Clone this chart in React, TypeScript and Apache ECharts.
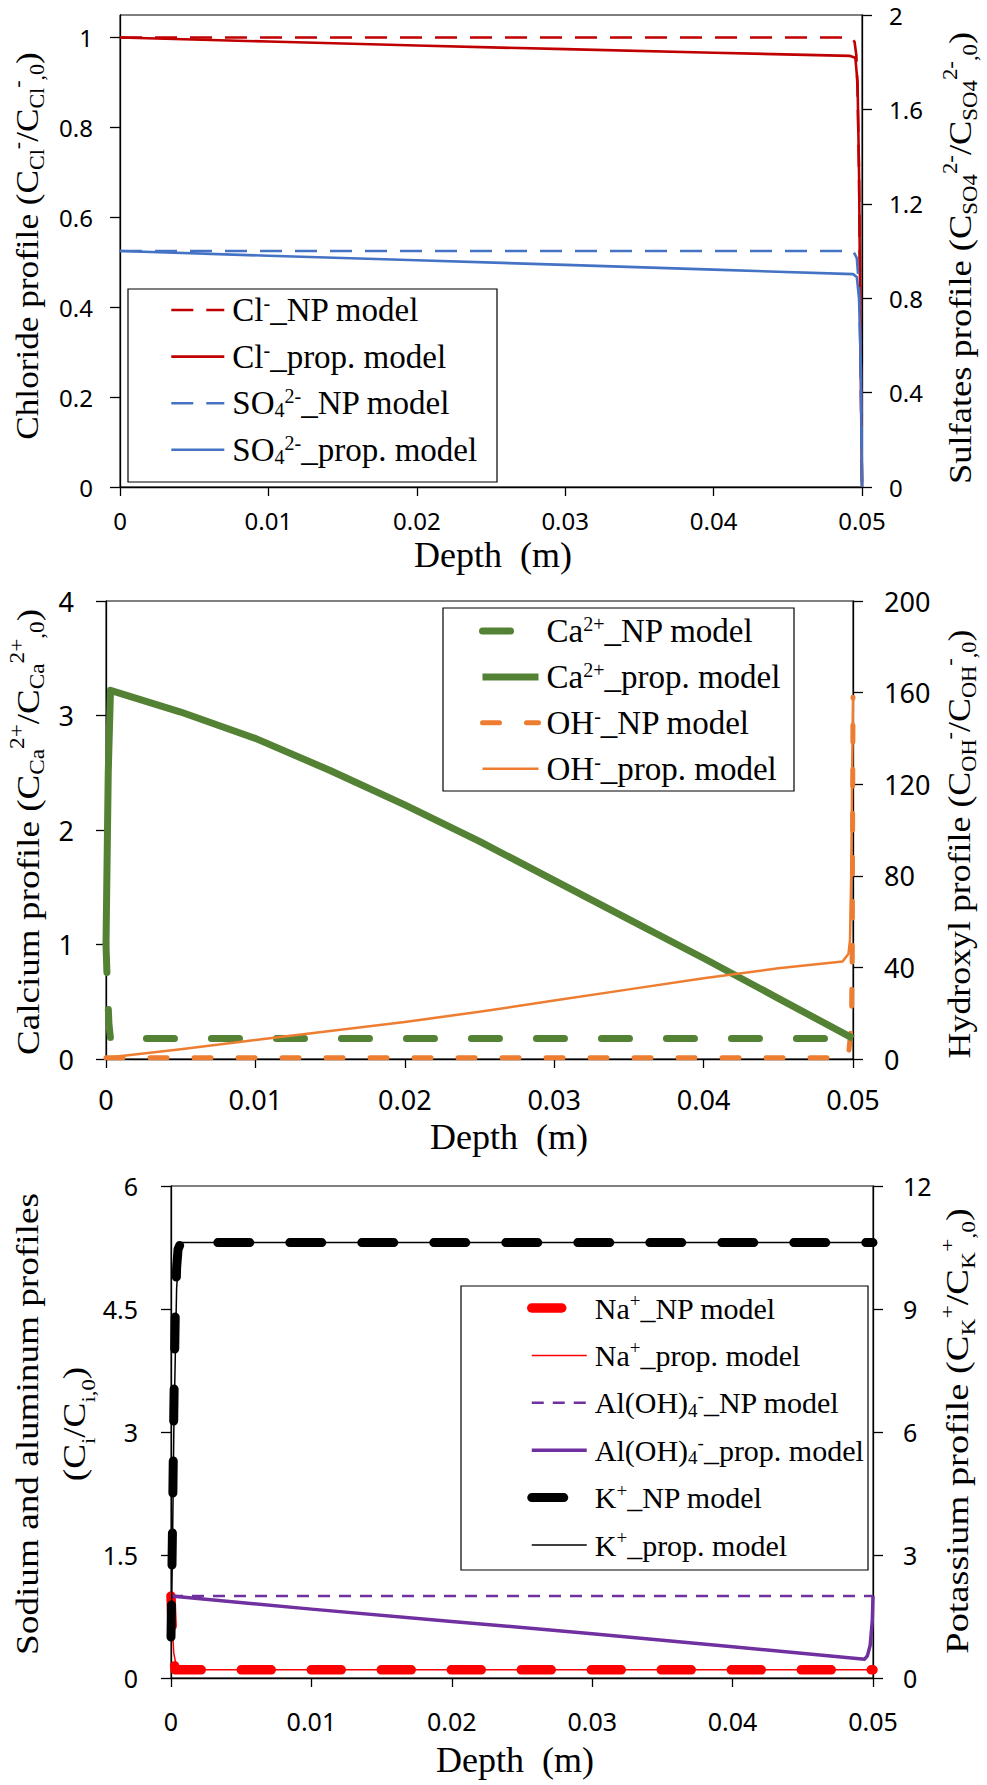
import React, { useEffect, useRef } from 'react';
import * as echarts from 'echarts';

const SERIF = '"Liberation Serif", "Times New Roman", serif';
const SANS = '"Noto Sans", "Open Sans", sans-serif';

// ---------- tick labels ----------
const depthTicks = [0, 0.01, 0.02, 0.03, 0.04, 0.05];
const chlorideTicks = [0, 0.2, 0.4, 0.6, 0.8, 1];

// ---------- chart 1: chloride / sulfates ----------
const clNPx = [0, 0.0493, 0.0495, 0.04962, 0.0497, 0.0498, 0.04988, 0.04995, 0.05];
const clNPy = [1, 1, 0.99, 0.96, 0.88, 0.7, 0.4, 0.15, 0];
const clPropX = [0, 0.01, 0.02, 0.03, 0.04, 0.0492, 0.04955, 0.0497, 0.0498, 0.04988, 0.04995, 0.05];
const clPropY = [1, 0.991, 0.982, 0.974, 0.966, 0.959, 0.955, 0.9, 0.7, 0.4, 0.15, 0];
const so4NPx = [0, 0.0494, 0.04965, 0.0498, 0.0499, 0.04996, 0.05];
const so4NPy = [1, 1, 0.97, 0.85, 0.55, 0.25, 0];
const so4PropX = [0, 0.01, 0.02, 0.03, 0.04, 0.0494, 0.04965, 0.0498, 0.04993, 0.04998, 0.05];
const so4PropY = [1, 0.98, 0.961, 0.941, 0.921, 0.902, 0.89, 0.8, 0.5, 0.15, 0];

// ---------- chart 2: calcium / hydroxyl ----------
const caNPx = [0, 0.0001, 0.0002, 0.0003, 0.05];
const caNPy = [1, 0.6, 0.3, 0.18, 0.18];
const caPropX = [0, 0.00015, 0.0003, 0.005, 0.01, 0.015, 0.02, 0.025, 0.03, 0.035, 0.04, 0.045, 0.05];
const caPropY = [1, 2.5, 3.22, 3.03, 2.8, 2.52, 2.22, 1.9, 1.56, 1.22, 0.88, 0.53, 0.18];
const ohNPx = [0, 0.0494, 0.0497, 0.0499, 0.04995, 0.05];
const ohNPy = [0.5, 0.5, 2, 15, 50, 158];
const ohPropX = [0, 0.005, 0.01, 0.015, 0.02, 0.025, 0.03, 0.035, 0.04, 0.045, 0.0493, 0.0497, 0.0498, 0.04988, 0.04995, 0.05];
const ohPropY = [0.5, 4.3, 8.3, 12.2, 16.2, 20.6, 25.5, 30.4, 35.3, 39.6, 42.6, 46, 52, 80, 130, 158];

// ---------- chart 3: sodium / aluminum / potassium ----------
const naNPx = [0, 0.0001, 0.0002, 0.0003, 0.05];
const naNPy = [1, 0.55, 0.22, 0.1, 0.1];
const naPropX = [0, 0.0001, 0.0002, 0.0004, 0.0006, 0.05];
const naPropY = [1, 0.6, 0.3, 0.13, 0.1, 0.1];
const alNPx = [0, 0.025, 0.05];
const alNPy = [1, 1, 1];
const alPropX = [0, 0.01, 0.02, 0.03, 0.04, 0.0494, 0.0496, 0.0498, 0.04995, 0.05];
const alPropY = [1, 0.84, 0.69, 0.54, 0.38, 0.23, 0.27, 0.4, 0.7, 1];
const kNPx = [0, 0.0001, 0.0002, 0.0003, 0.0004, 0.0005, 0.0007, 0.05];
const kNPy = [1, 3.5, 6.5, 8.8, 10, 10.45, 10.62, 10.62];
const kPropX = [0, 0.0001, 0.0002, 0.0004, 0.0006, 0.0008, 0.05];
const kPropY = [1, 3, 6, 9.5, 10.5, 10.62, 10.62];

// ---------- legend labels ----------
const LEG1 = ['Cl⁻_NP model', 'Cl⁻_prop. model', 'SO₄²⁻_NP model', 'SO₄²⁻_prop. model'];
const LEG2 = ['Ca²⁺_NP model', 'Ca²⁺_prop. model', 'OH⁻_NP model', 'OH⁻_prop. model'];
const LEG3 = ['Na⁺_NP model', 'Na⁺_prop. model', 'Al(OH)₄⁻_NP model', 'Al(OH)₄⁻_prop. model', 'K⁺_NP model', 'K⁺_prop. model'];
const LEG_RICH: Record<string, string> = {
  'Cl⁻_NP model': '{n|Cl}{sup|-}{n|_NP model}',
  'Cl⁻_prop. model': '{n|Cl}{sup|-}{n|_prop. model}',
  'SO₄²⁻_NP model': '{n|SO}{sub|4}{sup|2-}{n|_NP model}',
  'SO₄²⁻_prop. model': '{n|SO}{sub|4}{sup|2-}{n|_prop. model}',
  'Ca²⁺_NP model': '{n|Ca}{sup|2+}{n|_NP model}',
  'Ca²⁺_prop. model': '{n|Ca}{sup|2+}{n|_prop. model}',
  'OH⁻_NP model': '{n|OH}{sup|-}{n|_NP model}',
  'OH⁻_prop. model': '{n|OH}{sup|-}{n|_prop. model}',
  'Na⁺_NP model': '{n|Na}{sup|+}{n|_NP model}',
  'Na⁺_prop. model': '{n|Na}{sup|+}{n|_prop. model}',
  'Al(OH)₄⁻_NP model': '{n|Al(OH)}{sub|4}{sup|-}{n|_NP model}',
  'Al(OH)₄⁻_prop. model': '{n|Al(OH)}{sub|4}{sup|-}{n|_prop. model}',
  'K⁺_NP model': '{n|K}{sup|+}{n|_NP model}',
  'K⁺_prop. model': '{n|K}{sup|+}{n|_prop. model}',
};

// ---------- axis titles ----------
const TITLE_C1_LEFT = '{n|Chloride profile (C}{sub|Cl}{sup|-}{n|/C}{sub|Cl}{sup|-}{sub|,0}{n|)}';
const TITLE_C1_RIGHT = '{n|Sulfates profile (C}{sub|SO}{sub2|4}{sup|2-}{n|/C}{sub|SO}{sub2|4}{sup|2-}{sub|,0}{n|)}';
const TITLE_C2_LEFT = '{n|Calcium profile (C}{sub|Ca}{sup|2+}{n|/C}{sub|Ca}{sup|2+}{sub|,0}{n|)}';
const TITLE_C2_RIGHT = '{n|Hydroxyl profile (C}{sub|OH}{sup|-}{n|/C}{sub|OH}{sup|-}{sub|,0}{n|)}';
const TITLE_C3_LEFT = '{n|Sodium and aluminum profiles}\n{n|(C}{sub|i}{n|/C}{sub|i,0}{n|)}';
const TITLE_C3_RIGHT = '{n|Potassium profile (C}{sub|K}{sup|+}{n|/C}{sub|K}{sup|+}{sub|,0}{n|)}';
const DEPTH_NAME = 'Depth  (m)';

function rich(F: number, L: number) {
  const s = Math.round(F * 0.62);
  const base = { fontFamily: SERIF, color: '#000', fill: '#000' };
  return {
    n: { ...base, fontSize: F, lineHeight: L, verticalAlign: 'middle' },
    sup: { ...base, fontSize: s, lineHeight: Math.max(2, L - 0.62 * F), verticalAlign: 'top' },
    sub: { ...base, fontSize: s, lineHeight: Math.max(2, L - 0.56 * F), verticalAlign: 'bottom' },
    sub2: { ...base, fontSize: s, lineHeight: Math.max(2, L - 0.78 * F), verticalAlign: 'bottom' },
  };
}

function zip(xs: number[], ys: number[]) {
  return xs.map((x, i) => [x, ys[i]]);
}

function line(name: string, xs: number[], ys: number[], xi: number, yi: number, color: string, width: number, dash?: number[], round?: boolean, z = 2) {
  return {
    type: 'line',
    name,
    xAxisIndex: xi,
    yAxisIndex: yi,
    data: zip(xs, ys),
    symbol: 'none',
    silent: true,
    z,
    itemStyle: { color },
    lineStyle: { color, width, type: dash || 'solid', cap: round ? 'round' : 'butt', join: 'round' },
  };
}

const GRIDS = [
  { left: 120, top: 15, width: 742, height: 472 },
  { left: 106, top: 601, width: 747, height: 458 },
  { left: 171, top: 1186, width: 702, height: 492 },
];
const TICK_FS = [24, 27, 25];
const X_MARGIN = [21, 27, 30];

function yAxis(gi: number, pos: 'left' | 'right', min: number, max: number, interval: number, fs: number, margin: number, custom?: number[]) {
  const ax: any = {
    type: 'value',
    gridIndex: gi,
    position: pos,
    min,
    max,
    interval,
    axisLine: { show: true, onZero: false, lineStyle: { color: '#000', width: 1.3 } },
    axisTick: { show: true, length: 10, lineStyle: { color: '#000', width: 1.3 } },
    axisLabel: { fontFamily: SANS, fontSize: fs, color: '#000', margin },
    splitLine: { show: false },
  };
  if (custom) {
    ax.axisLabel.customValues = custom;
    ax.axisTick.customValues = custom;
  }
  return ax;
}

function title(text: string, x: number, y: number, F: number, L: number, rotated: boolean, stretch = 1) {
  return {
    type: 'text',
    x,
    y,
    rotation: rotated ? Math.PI / 2 : 0,
    scaleX: stretch,
    silent: true,
    z: 10,
    style: {
      text,
      fontFamily: SERIF,
      fontSize: F,
      lineHeight: L,
      fill: '#000',
      align: 'center',
      verticalAlign: 'middle',
      rich: rich(F, L),
    },
  };
}

function box(x: number, y: number, w: number, h: number) {
  return { type: 'rect', z: 10, silent: true, shape: { x, y, width: w, height: h }, style: { fill: 'none', stroke: '#000', lineWidth: 1.2 } };
}

export default function App() {
  const ref = useRef<HTMLDivElement>(null);
  useEffect(() => {
    if (!ref.current) return;
    const chart = echarts.init(ref.current, undefined, { renderer: 'svg' });
    const legendBase = (data: string[], left: number, top: number, itemWidth: number, itemGap: number, F: number, L: number) => ({
      data,
      orient: 'vertical',
      left,
      top,
      padding: 0,
      itemWidth,
      itemHeight: 12,
      itemGap,
      selectedMode: false,
      borderWidth: 0,
      itemStyle: { opacity: 0 },
      lineStyle: { width: 'inherit' },
      formatter: (name: string) => LEG_RICH[name] || name,
      textStyle: { fontFamily: SERIF, fontSize: F, color: '#000', lineHeight: L, padding: [0, 0, 0, 3], rich: rich(F, L) },
    });
    const option: any = {
      animation: false,
      backgroundColor: '#ffffff',
      grid: GRIDS.map((g) => ({ ...g, show: true, borderColor: '#000', borderWidth: 1, backgroundColor: 'transparent' })),
      xAxis: [0, 1, 2].map((i) => ({
        type: 'value',
        gridIndex: i,
        min: 0,
        max: 0.05,
        interval: 0.01,
        axisLine: { show: true, onZero: false, lineStyle: { color: '#000', width: 1.3 } },
        axisTick: { show: true, length: 9, lineStyle: { color: '#000', width: 1.3 }, customValues: depthTicks },
        axisLabel: { fontFamily: SANS, fontSize: TICK_FS[i], color: '#000', margin: X_MARGIN[i], customValues: depthTicks },
        splitLine: { show: false },
      })),
      yAxis: [
        yAxis(0, 'left', 0, 1.05, 0.2, 24, 27, chlorideTicks),
        yAxis(0, 'right', 0, 2, 0.4, 24, 27),
        yAxis(1, 'left', 0, 4, 1, 27, 32),
        yAxis(1, 'right', 0, 200, 40, 27, 31),
        yAxis(2, 'left', 0, 6, 1.5, 25, 33),
        yAxis(2, 'right', 0, 12, 3, 25, 30),
      ],
      legend: [
        legendBase(LEG1, 170, 293, 53, 12.6, 33, 34),
        legendBase(LEG2, 479, 614, 56, 11.9, 33, 34),
        legendBase(LEG3, 527, 1291, 55, 13.4, 30, 34),
      ],
      graphic: [
        box(128, 289, 369, 193),
        box(443, 608, 351, 183),
        box(461, 1286, 407, 284),
        title(TITLE_C1_LEFT, 27, 246, 32, 40, true, 1.1),
        title(TITLE_C1_RIGHT, 960, 258, 32, 40, true, 1.14),
        title(TITLE_C2_LEFT, 28, 832, 32, 40, true, 1.16),
        title(TITLE_C2_RIGHT, 959, 844, 32, 40, true, 1.12),
        title(TITLE_C3_LEFT, 51, 1424, 31, 47, true, 1.2),
        title(TITLE_C3_RIGHT, 958, 1431, 31, 40, true, 1.24),
        title(DEPTH_NAME, 493, 555, 36, 40, false),
        title(DEPTH_NAME, 509, 1137, 36, 40, false),
        title(DEPTH_NAME, 515, 1760, 36, 40, false),
      ],
      series: [
        line('Cl⁻_prop. model', clPropX, clPropY, 0, 0, '#C00000', 2.6),
        line('Cl⁻_NP model', clNPx, clNPy, 0, 0, '#C00000', 2.6, [22, 13]),
        line('SO₄²⁻_prop. model', so4PropX, so4PropY, 0, 1, '#4472C4', 2.6),
        line('SO₄²⁻_NP model', so4NPx, so4NPy, 0, 1, '#4472C4', 2.6, [22, 13]),

        line('Ca²⁺_NP model', caNPx, caNPy, 1, 2, '#548235', 7, [28, 37], true),
        line('OH⁻_NP model', ohNPx, ohNPy, 1, 3, '#ED7D31', 5, [17, 27], true),
        line('Ca²⁺_prop. model', caPropX, caPropY, 1, 2, '#548235', 7),
        line('OH⁻_prop. model', ohPropX, ohPropY, 1, 3, '#ED7D31', 2.5),

        line('Na⁺_prop. model', naPropX, naPropY, 2, 4, '#FF0000', 1.5),
        line('Na⁺_NP model', naNPx, naNPy, 2, 4, '#FF0000', 9.5, [30, 40], true),
        line('Al(OH)₄⁻_NP model', alNPx, alNPy, 2, 4, '#7030A0', 2.5, [12, 9]),
        line('Al(OH)₄⁻_prop. model', alPropX, alPropY, 2, 4, '#7030A0', 3.5),
        line('K⁺_prop. model', kPropX, kPropY, 2, 5, '#000000', 1.5),
        line('K⁺_NP model', kNPx, kNPy, 2, 5, '#000000', 9, [32, 40], true),
      ],
    };
    chart.setOption(option);
    return () => chart.dispose();
  }, []);
  return <div ref={ref} style={{ position: 'absolute', left: 0, top: 0, width: 987, height: 1785, background: '#fff' }} />;
}
